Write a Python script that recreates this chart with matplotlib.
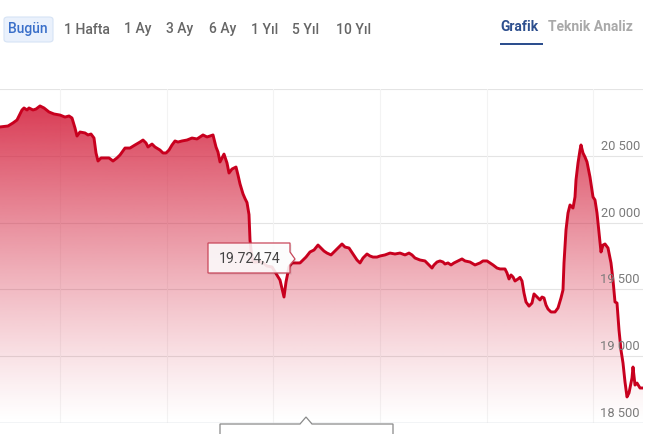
import numpy as np
import matplotlib
matplotlib.use("Agg")
import matplotlib.pyplot as plt
from matplotlib.patches import FancyBboxPatch, Polygon, Rectangle
from matplotlib.colors import to_rgb

# ---------------- data ----------------
t = [0, 8, 13, 17, 22, 24, 27, 29, 33, 36, 40, 44, 49, 54, 60, 65, 69, 72, 75, 77,
     80, 85, 88, 91, 94, 96, 98, 101, 105, 109, 113, 117, 120, 125, 130, 135, 140, 143,
     146, 148, 152, 155, 160, 163, 166, 169, 172, 175, 178, 182, 187, 192, 197, 200,
     203, 207, 210, 213, 216, 218, 220, 224, 227, 229, 232, 236, 238, 240, 243, 245,
     247, 249, 250, 251, 253, 262, 267, 272, 280, 284, 286, 289, 292, 296, 300, 303,
     306, 310, 314, 318, 321, 324, 327, 331, 334, 340, 342, 345, 349, 353, 357, 360,
     363, 367, 370, 373, 377, 380, 385, 390, 395, 400, 405, 409, 412, 415, 420, 425,
     429, 432, 434, 437, 440, 443, 445, 448, 451, 454, 458, 462, 465, 470, 475, 480,
     483, 487, 490, 493, 497, 500, 505, 507, 509, 511, 513, 515, 518, 520, 522, 524,
     526, 529, 532, 534, 537, 540, 542, 544, 546, 548, 551, 555, 558, 561, 563, 564,
     566, 568, 570, 573, 575, 576, 578, 580, 581, 583, 585, 587, 590, 593, 595, 597,
     600, 601, 603, 605, 608, 611, 613, 615, 617, 619, 621, 623, 625, 627, 629, 631,
     632, 633, 635, 637, 640, 643]
values = [20716, 20723, 20746, 20768, 20843, 20858, 20843, 20858, 20843, 20850, 20873,
          20858, 20828, 20813, 20805, 20790, 20798, 20783, 20708, 20648, 20678, 20671,
          20656, 20663, 20633, 20521, 20461, 20484, 20484, 20484, 20461, 20484, 20506,
          20558, 20558, 20581, 20603, 20618, 20596, 20566, 20588, 20566, 20543, 20521,
          20521, 20543, 20581, 20611, 20603, 20611, 20618, 20633, 20626, 20641, 20656,
          20641, 20648, 20656, 20566, 20528, 20454, 20513, 20446, 20371, 20401, 20416,
          20356, 20290, 20215, 20180, 20150, 20060, 19870, 19795, 19705, 19705, 19675,
          19668, 19570, 19443, 19555, 19668, 19698, 19698, 19698, 19720, 19742, 19780,
          19795, 19832, 19810, 19787, 19772, 19758, 19780, 19825, 19840, 19817, 19810,
          19765, 19720, 19698, 19735, 19765, 19750, 19742, 19742, 19750, 19758, 19772,
          19765, 19772, 19758, 19772, 19758, 19735, 19720, 19713, 19683, 19660, 19683,
          19705, 19713, 19705, 19690, 19698, 19683, 19698, 19713, 19728, 19713, 19705,
          19683, 19698, 19713, 19713, 19698, 19683, 19660, 19653, 19653, 19623, 19578,
          19608, 19593, 19563, 19578, 19590, 19563, 19473, 19406, 19375, 19398, 19466,
          19443, 19421, 19443, 19436, 19383, 19353, 19331, 19331, 19361, 19436, 19496,
          19698, 19945, 20072, 20132, 20109, 20192, 20319, 20446, 20543, 20581, 20521,
          20491, 20454, 20341, 20192, 20169, 20072, 19855, 19780, 19832, 19840, 19810,
          19698, 19570, 19406, 19398, 19196, 19046, 18949, 18807, 18695, 18725, 18799,
          18837, 18919, 18784, 18799, 18762, 18762]
y_ticks = [18500, 19000, 19500, 20000, 20500]
y_tick_labels = ["18 500", "19 000", "19 500", "20 000", "20 500"]
range_buttons = ["Bugün", "1 Hafta", "1 Ay", "3 Ay", "6 Ay", "1 Yıl", "5 Yıl", "10 Yıl"]
tab_labels = ["Grafik", "Teknik Analiz"]
tooltip_value = "19.724,74"

# ---------------- figure ----------------
W, H = 650, 434
DPI = 100
plt.rcParams['font.family'] = ['Roboto', 'DejaVu Sans']
fig = plt.figure(figsize=(W / DPI, H / DPI), dpi=DPI)
fig.patch.set_facecolor("white")

def fx(px):
    return px / W

def fy(py):
    return 1 - py / H

ax_left, ax_right, ax_top, ax_bot = 0, 643, 89, 423
ax = fig.add_axes([fx(ax_left), fy(ax_bot), fx(ax_right - ax_left), (ax_bot - ax_top) / H])
ax.set_xlim(0, 643)
ax.set_ylim(18500, 21000)
ax.axis("off")

tt = np.array(t, dtype=float)
vv = np.array(values, dtype=float)

# grid lines
for yv in [18500, 19000, 19500, 20000, 20500, 21000]:
    ax.axhline(yv, color="#e4e4e4", lw=0.8, zorder=1)
for xv in [60, 167, 273, 380, 487, 593]:
    ax.axvline(xv, color="#f3f3f3", lw=0.8, zorder=1)

# gradient fill
line_color = "#c8001e"
vmax = vv.max()
n = 256
r, g, b = to_rgb("#d4213d")
grad = np.zeros((n, 1, 4))
frac = np.linspace(1, 0, n)
grad[:, 0, 0] = r
grad[:, 0, 1] = g
grad[:, 0, 2] = b
grad[:, 0, 3] = 0.88 * frac ** 1.2
poly_xy = np.vstack([np.column_stack([tt, vv]), [[tt[-1], 18500], [tt[0], 18500]]])
poly = Polygon(poly_xy, closed=True, facecolor="none", edgecolor="none")
ax.add_patch(poly)
im = ax.imshow(grad, extent=[0, 643, 18500, vmax], aspect="auto", zorder=2,
               interpolation="bilinear")
im.set_clip_path(poly)

ax.plot(tt, vv, color=line_color, lw=2.1, zorder=3, solid_joinstyle="round")

# bottom axis line
ax.axhline(18500, color="#c9d1da", lw=1.0, zorder=4)

# y tick labels (inside, right)
for yv, lab in zip(y_ticks, y_tick_labels):
    ax.text(640, yv + 22, lab, ha="right", va="bottom", fontsize=9.3, color="#7a7a7a", zorder=5)

# tooltip
box_l, box_r, box_t, box_b = 208, 290, 243, 273
tip_pts = [(box_l, box_t), (box_r, box_t), (box_r, 252), (295, 259), (box_r, 265),
           (box_r, box_b), (box_l, box_b)]
shadow = Polygon([(fx(x + 1.5), fy(y + 1.5)) for x, y in tip_pts], closed=True,
                 transform=fig.transFigure, facecolor="#00000018", edgecolor="none", zorder=6)
fig.patches.append(shadow)
tip = Polygon([(fx(x), fy(y)) for x, y in tip_pts], closed=True, transform=fig.transFigure,
              facecolor=(1, 1, 1, 0.88), edgecolor="#c8475a", lw=0.9, zorder=7)
fig.patches.append(tip)
fig.text(fx((box_l + box_r) / 2 + 0.5), fy((box_t + box_b) / 2 + 0.5), tooltip_value,
         ha="center", va="center", fontsize=10.2, color="#444444", zorder=8)

# bottom crosshair label box
bb = [(220, 436), (220, 424), (300, 424), (306, 417), (312, 424), (393, 424), (393, 436)]
bottom_box = Polygon([(fx(x), fy(y)) for x, y in bb], closed=False, transform=fig.transFigure,
                     facecolor="white", edgecolor="#8a8a8a", lw=0.9, zorder=7)
fig.patches.append(bottom_box)

# header buttons
btn = FancyBboxPatch((fx(4), fy(42)), fx(49), (42 - 17) / H,
                     boxstyle="round,pad=0,rounding_size=0.006", transform=fig.transFigure,
                     facecolor="#eaf1fc", edgecolor="#d6e3f5", lw=0.8)
fig.patches.append(btn)
btn_x = [8, 64, 124, 166, 209, 251, 292, 336]
for i, (lab, x) in enumerate(zip(range_buttons, btn_x)):
    fig.text(fx(x), fy(29.5), lab, ha="left", va="center", fontsize=10,
             fontweight="medium", color="#3a6fc9" if i == 0 else "#666666")

fig.text(fx(500), fy(27), tab_labels[0], ha="left", va="center", fontsize=10,
         fontweight="bold", color="#2d4f8e")
fig.text(fx(548), fy(27), tab_labels[1], ha="left", va="center", fontsize=10,
         fontweight="bold", color="#a9a9a9")
fig.patches.append(Rectangle((fx(500), fy(45)), fx(43), 2 / H, transform=fig.transFigure,
                             facecolor="#2d4f8e", edgecolor="none"))

fig.savefig("out.png", dpi=DPI, facecolor="white")
